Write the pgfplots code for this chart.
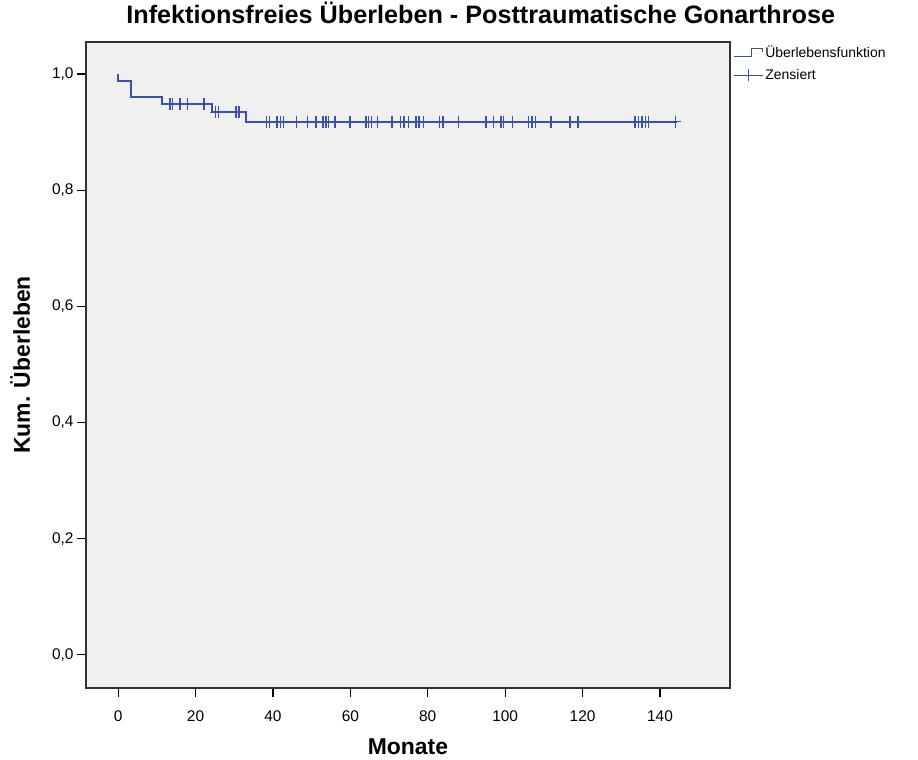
\documentclass[border=0pt]{standalone}
\usepackage{pgfplots}
\pgfplotsset{compat=1.18}
\usepackage{fontspec}
\setmainfont{Liberation Sans}
\definecolor{kmblue}{RGB}{58,80,172}
\definecolor{plotbg}{RGB}{240,240,240}
\definecolor{frame}{RGB}{50,50,50}

\begin{document}
\begin{tikzpicture}[x=1bp,y=1bp]
\path[use as bounding box] (-86,-72) rectangle (832,688);
\begin{axis}[
  at={(0,0)}, anchor=south west,
  scale only axis, width=644bp, height=646bp,
  xmin=-8.3, xmax=158.1, ymin=-0.057, ymax=1.055,
  axis background/.style={fill=plotbg},
  axis line style={draw=frame, line width=1.4bp},
  xtick={0,20,...,140}, ytick={0,0.2,0.4,0.6,0.8,1.0},
  tick align=outside, tick pos=left, major tick length=9bp,
  tick style={black, line width=1.2bp},
  /pgf/number format/assume math mode=true,
  ticklabel style={font=\fontsize{15.5}{18}\selectfont},
  y tick label style={/pgf/number format/.cd, fixed, fixed zerofill, precision=1, use comma},
  x tick label style={yshift=-10bp},
  title={Infektionsfreies Überleben - Posttraumatische Gonarthrose},
  title style={font=\fontsize{25.3}{29}\selectfont\bfseries, at={(axis description cs:0.613,1)}, anchor=base, yshift=13bp},
  xlabel={Monate},
  xlabel style={font=\fontsize{23}{26}\selectfont\bfseries, at={(axis description cs:0.5,0)}, anchor=base, yshift=-66bp},
  ylabel={Kum. Überleben},
  ylabel style={font=\fontsize{23}{26}\selectfont\bfseries, at={(axis description cs:-0.087,0.5)}, anchor=base, rotate=0},
  legend style={at={(axis description cs:1,1)}, anchor=north west, xshift=2bp, yshift=-1bp,
    draw=none, fill=none, font=\fontsize{14}{16}\selectfont,
    row sep=6bp, inner sep=1bp},
  legend cell align=left,
]
% legend symbols: step function and censoring cross
\addlegendimage{legend image code/.code={
  \draw[kmblue, line width=1.2bp] (0bp,-4bp) -- (18bp,-4bp) -- (18bp,4bp) -- (29bp,4bp) -- (29bp,1bp);}}
\addlegendentry{Überlebensfunktion}
\addlegendimage{legend image code/.code={
  \draw[kmblue, line width=1.2bp] (0bp,0bp) -- (29bp,0bp);
  \draw[kmblue, line width=1.2bp] (14.5bp,-6bp) -- (14.5bp,6bp);}}
\addlegendentry{Zensiert}

% Kaplan-Meier step function
\addplot[kmblue, line width=2bp, const plot, forget plot] coordinates {
  (0,1.000) (0,0.987) (3.4,0.961) (11.3,0.948) (24.2,0.934) (33.0,0.918) (144.4,0.918)
};

% censored observations
\addplot[kmblue, only marks, mark=+, mark size=6bp, mark options={line width=1.5bp}, forget plot] coordinates {
  (13.4,0.948) (14.1,0.948) (16.0,0.948) (17.9,0.948) (22.2,0.948)
  (25.2,0.934) (25.9,0.934) (30.5,0.934) (31.2,0.934)
  (38.4,0.918) (39.1,0.918) (41.1,0.918) (41.9,0.918) (42.7,0.918) (46.1,0.918)
  (48.9,0.918) (51.1,0.918) (52.9,0.918) (53.7,0.918) (54.3,0.918) (56.1,0.918)
  (59.9,0.918) (64.0,0.918) (64.7,0.918) (65.5,0.918) (67.0,0.918) (70.7,0.918)
  (72.9,0.918) (73.9,0.918) (75.0,0.918) (77.0,0.918) (77.8,0.918) (78.9,0.918)
  (83.0,0.918) (83.9,0.918) (87.9,0.918) (95.0,0.918) (97.0,0.918) (98.9,0.918)
  (99.6,0.918) (101.9,0.918) (106.0,0.918) (106.9,0.918) (107.8,0.918) (111.9,0.918)
  (116.8,0.918) (118.8,0.918) (133.6,0.918) (134.4,0.918) (135.3,0.918) (136.2,0.918)
  (137.0,0.918) (144.0,0.918)
};
\end{axis}
\end{tikzpicture}
\end{document}
